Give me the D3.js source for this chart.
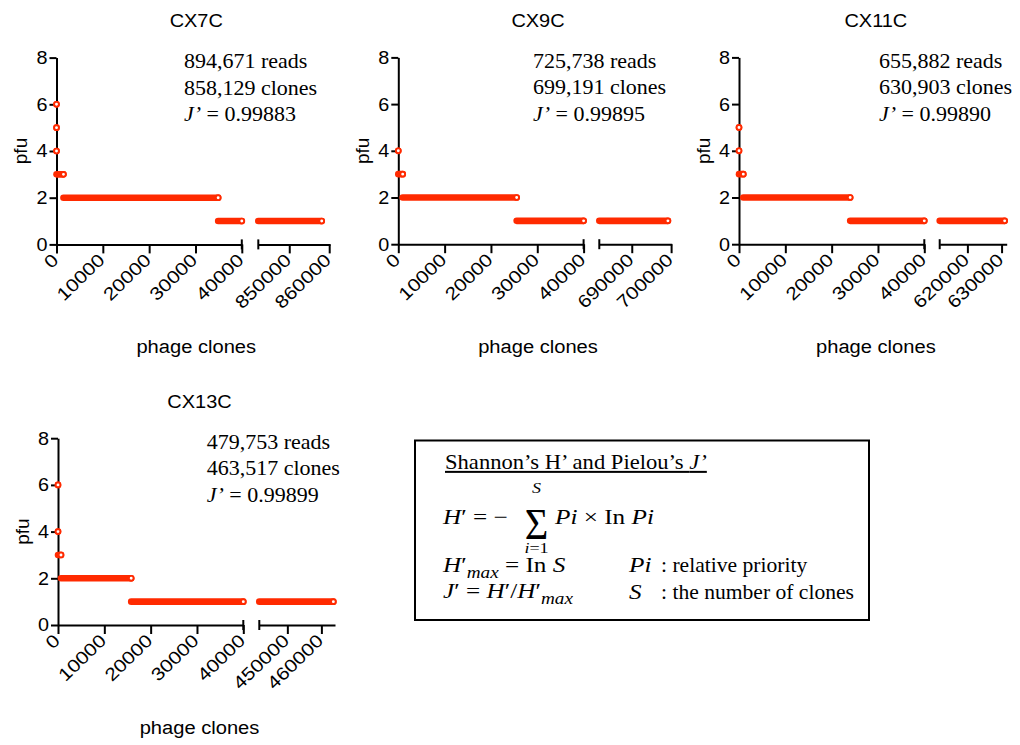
<!DOCTYPE html>
<html>
<head>
<meta charset="utf-8">
<script src="https://cdn.jsdelivr.net/npm/d3@7"></script>
<style>
  body { margin: 0; background: #fff; }
  svg { display: block; }
</style>
</head>
<body>
<div id="chart"></div>
<script>
const panelNames = ['CX7C', 'CX9C', 'CX11C', 'CX13C'];
const readCounts = ['894,671', '725,738', '655,882', '479,753'];
const cloneCounts = ['858,129', '699,191', '630,903', '463,517'];
const evenness = ['0.99883', '0.99895', '0.99890', '0.99899'];

// clones ranked by pfu, grouped in runs: [pfu, first rank, last rank]
const runsCX7C = [[6, 1, 1], [5, 2, 2], [4, 3, 4], [3, 5, 1500], [2, 1501, 34900], [1, 34901, 858129]];
const runsCX9C = [[4, 1, 2], [3, 3, 950], [2, 951, 25550], [1, 25551, 699191]];
const runsCX11C = [[5, 1, 1], [4, 2, 3], [3, 4, 930], [2, 931, 24000], [1, 24001, 630903]];
const runsCX13C = [[6, 1, 1], [4, 2, 3], [3, 4, 650], [2, 651, 15800], [1, 15801, 463517]];
const allRuns = [runsCX7C, runsCX9C, runsCX11C, runsCX13C];

const yTicks = [0, 2, 4, 6, 8];
const xDomainLow = [0, 40000];
const xTicksLow = [0, 10000, 20000, 30000, 40000];
const xDomainsHigh = [[842250, 860200], [681750, 700150], [611900, 631500], [441760, 464000]];
const xTicksHigh = [[850000, 860000], [690000, 700000], [620000, 630000], [450000, 460000]];

const RED = '#ff2a00';
const SANS = '"Liberation Sans", Arial, sans-serif';
const SERIF = '"Liberation Serif", "Times New Roman", serif';

// where each panel sits on the page
const panels = [
  { left: 56.5, bottom: 244.4, highStart: 258.3, highEnd: 330, noteDx: 127.5 },
  { left: 398.3, bottom: 244.2, highStart: 599.3, highEnd: 671.7, noteDx: 134.7 },
  { left: 739, bottom: 244.2, highStart: 939.7, highEnd: 1006.7, noteDx: 140 },
  { left: 58, bottom: 625, highStart: 259.3, highEnd: 335, noteDx: 148.7 }
];
const plotHeight = 186.8;
const lowWidth = 185.3;

const svg = d3.select('#chart')
  .append('svg')
  .attr('width', 1020)
  .attr('height', 745);

function styleAxis(g) {
  g.selectAll('path, line').attr('stroke', '#000').attr('stroke-width', 2);
  g.selectAll('text').remove();
}

function drawPanel(i) {
  const p = panels[i];
  const runs = allRuns[i];
  const top = p.bottom - plotHeight;
  const g = svg.append('g');

  const y = d3.scaleLinear().domain([0, 8]).range([p.bottom, top]);
  const xLow = d3.scaleLinear().domain(xDomainLow).range([p.left, p.left + lowWidth]);
  const xHigh = d3.scaleLinear().domain(xDomainsHigh[i]).range([p.highStart, p.highEnd]);

  g.append('g')
    .attr('transform', `translate(${p.left},0)`)
    .call(d3.axisLeft(y).tickValues(yTicks).tickSize(7).tickSizeOuter(0))
    .call(styleAxis);

  g.append('g')
    .attr('transform', `translate(0,${p.bottom})`)
    .call(d3.axisBottom(xLow).tickValues(xTicksLow).tickSize(9).tickSizeOuter(0))
    .call(styleAxis);

  g.append('g')
    .attr('transform', `translate(0,${p.bottom})`)
    .call(d3.axisBottom(xHigh).tickValues(xTicksHigh[i]).tickSize(9).tickSizeOuter(0))
    .call(styleAxis);

  // axis break marks
  g.selectAll(null)
    .data([xLow.range()[1], xHigh.range()[0]])
    .join('line')
    .attr('x1', d => d).attr('x2', d => d)
    .attr('y1', p.bottom - 5).attr('y2', p.bottom + 5)
    .attr('stroke', '#000').attr('stroke-width', 2);

  g.selectAll(null)
    .data(yTicks)
    .join('text')
    .attr('transform', d => `translate(${p.left - 9},${y(d) + 6.4}) scale(1.1,1)`)
    .attr('text-anchor', 'end')
    .style('font-family', SANS).style('font-size', '18px')
    .text(d => d);

  const xLabels = xTicksLow.map(v => ({ v, x: xLow(v) }))
    .concat(xTicksHigh[i].map(v => ({ v, x: xHigh(v) })));
  g.selectAll(null)
    .data(xLabels)
    .join('text')
    .attr('transform', d => `translate(${d.x + 3},${p.bottom + 17}) rotate(-44) scale(1.16,1)`)
    .attr('text-anchor', 'end')
    .style('font-family', SANS).style('font-size', '18px')
    .text(d => d.v);

  // points: overlapping open circles read as a solid band, last one shows its white centre
  [xLow, xHigh].forEach(x => {
    const [d0, d1] = x.domain();
    const visible = runs
      .map(([pfu, a, b]) => ({ pfu, a: Math.max(a, d0), b: Math.min(b, d1) }))
      .filter(r => r.a <= r.b);
    g.selectAll(null)
      .data(visible)
      .join('line')
      .attr('x1', r => x(r.a)).attr('x2', r => x(r.b))
      .attr('y1', r => y(r.pfu)).attr('y2', r => y(r.pfu))
      .attr('stroke', RED).attr('stroke-width', 6.6).attr('stroke-linecap', 'round');
    g.selectAll(null)
      .data(visible)
      .join('circle')
      .attr('cx', r => x(r.b)).attr('cy', r => y(r.pfu))
      .attr('r', 2.4)
      .attr('fill', '#fff').attr('stroke', RED).attr('stroke-width', 1.9);
  });

  const cx = (p.left + p.highEnd) / 2 + 3;
  g.append('text')
    .attr('transform', `translate(${cx},${top - 30.5}) scale(1.05,1)`)
    .attr('text-anchor', 'middle')
    .style('font-family', SANS).style('font-size', '19px')
    .text(panelNames[i]);

  g.append('text')
    .attr('transform', `translate(${cx},${p.bottom + 108.5}) scale(1.06,1)`)
    .attr('text-anchor', 'middle')
    .style('font-family', SANS).style('font-size', '19px')
    .text('phage clones');

  g.append('text')
    .attr('transform', `translate(${p.left - 29.5},${(top + p.bottom) / 2}) rotate(-90)`)
    .attr('text-anchor', 'middle')
    .style('font-family', SANS).style('font-size', '19px')
    .text('pfu');

  const note = g.append('g')
    .style('font-family', SERIF).style('font-size', '20px');
  note.append('text')
    .attr('transform', `translate(${p.left + p.noteDx},${top + 10.5}) scale(1.1,1)`)
    .text(`${readCounts[i]} reads`);
  note.append('text')
    .attr('transform', `translate(${p.left + p.noteDx},${top + 37}) scale(1.1,1)`)
    .text(`${cloneCounts[i]} clones`);
  const j = note.append('text')
    .attr('transform', `translate(${p.left + p.noteDx},${top + 63.5}) scale(1.1,1)`);
  j.append('tspan').style('font-style', 'italic').text('J’');
  j.append('tspan').text(` = ${evenness[i]}`);
}

panelNames.forEach((_, i) => drawPanel(i));

// formula box
const box = svg.append('g');
box.append('rect')
  .attr('x', 415).attr('y', 440.5)
  .attr('width', 454).attr('height', 179.5)
  .attr('fill', 'none').attr('stroke', '#000').attr('stroke-width', 2);

const boxTitle = box.append('text')
  .attr('transform', 'translate(445,469) scale(1.13,1)')
  .style('font-family', SERIF).style('font-size', '20px')
  .style('text-decoration', 'underline');
boxTitle.append('tspan').text('Shannon’s H’ and Pielou’s ');
boxTitle.append('tspan').style('font-style', 'italic').text('J’');

function mathText(x, y, size, sx, parts, anchor) {
  const t = box.append('text')
    .attr('transform', `translate(${x},${y}) scale(${sx},1)`)
    .attr('text-anchor', anchor || 'start')
    .style('font-family', SERIF).style('font-size', `${size}px`);
  parts.forEach(([str, italic, dy, fs]) => {
    const s = t.append('tspan').text(str);
    if (italic) s.style('font-style', 'italic');
    if (dy) s.attr('dy', dy);
    if (fs) s.style('font-size', `${fs}px`);
  });
  return t;
}

mathText(443, 524, 21, 1.2, [['H', true], ['′ = −', false]]);
mathText(536.5, 539, 44, 0.92, [['Σ', false]], 'middle');
mathText(536.5, 493, 15, 1.2, [['S', true]], 'middle');
mathText(536.5, 553, 15, 1.2, [['i', true], ['=1', false]], 'middle');
mathText(555, 524, 21, 1.2, [['Pi', true], [' × In ', false], ['Pi', true]]);
mathText(443, 572, 21, 1.2, [['H', true], ['′', false], ['max', true, 6, 16], [' = In ', false, -6], ['S', true]]);
mathText(443, 598, 21, 1.2, [['J', true], ['′ = ', false], ['H', true], ['′/', false], ['H', true], ['′', false], ['max', true, 6, 16]]);

mathText(629, 572, 21, 1.2, [['Pi', true]]);
mathText(661, 572, 20, 1.08, [[': relative priority', false]]);
mathText(629, 599, 21, 1.2, [['S', true]]);
mathText(661, 599, 20, 1.08, [[': the number of clones', false]]);
</script>
</body>
</html>
